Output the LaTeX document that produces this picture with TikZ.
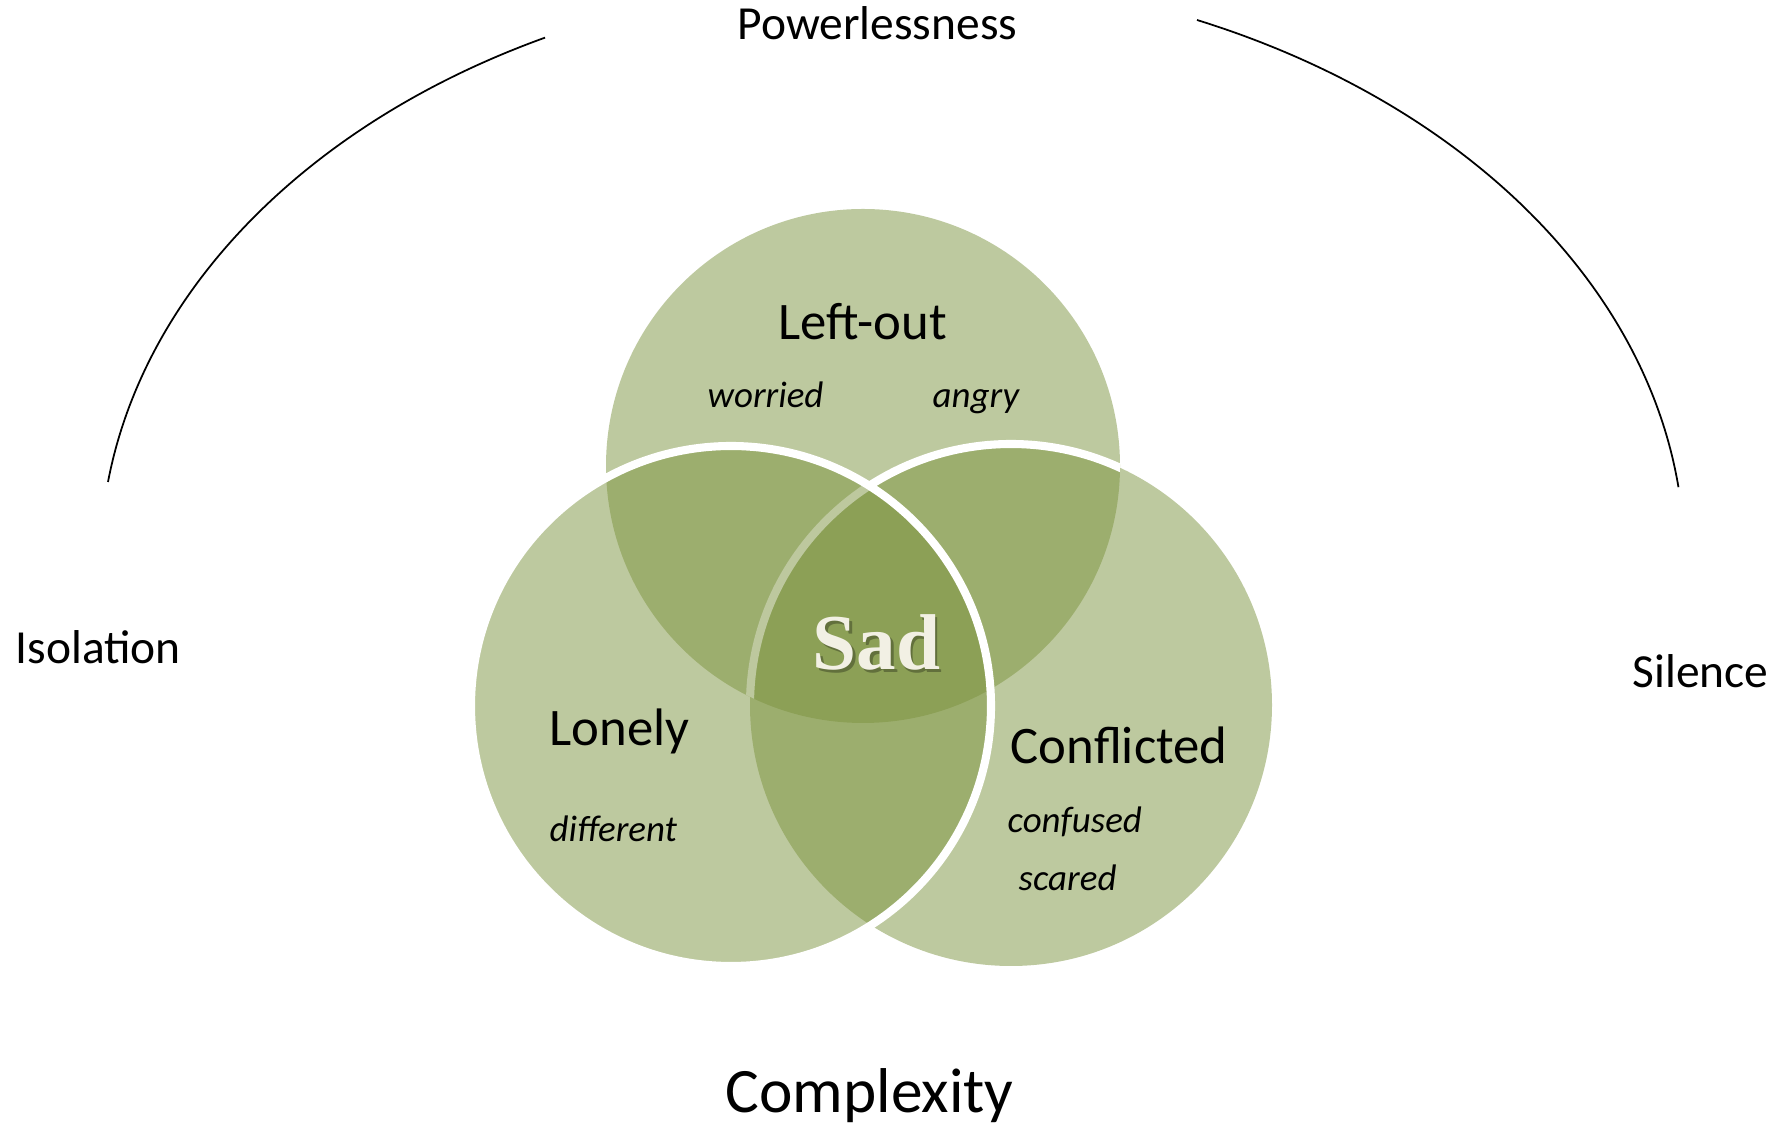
\documentclass[tikz,border=0pt]{standalone}
\usepackage{fontspec}
\setmainfont{Carlito}
\newfontfamily\sadfont{Liberation Serif}

\definecolor{venngreen}{RGB}{124,147,63}
\definecolor{sadcream}{RGB}{242,240,228}

\begin{document}
\begin{tikzpicture}[x=0.01cm, y=0.01cm,
    set/.style={fill=venngreen, fill opacity=0.5},
    rim/.style={draw=white, line width=2.3pt},
    theme/.style={inner sep=0pt, anchor=base west, font=\fontsize{13.5}{16}\selectfont},
    setname/.style={inner sep=0pt, anchor=base west, font=\fontsize{15}{18}\selectfont},
    feeling/.style={inner sep=0pt, anchor=base west, font=\fontsize{10.5}{13}\selectfont\itshape}]
        \useasboundingbox (0,0) rectangle (1787,1133);

        % Venn sets
        \fill[set] (863,667) circle (257);
        \fill[set] (1011,428) circle (261);
        \begin{scope}
            \clip (863,667) circle (257);
            \draw[rim] (1011,428) circle (261);
        \end{scope}
        \filldraw[set, rim] (731,427) circle (260);

        % outer arcs
        \draw[line width=0.5pt] (108,651) arc[start angle=172, end angle=116, x radius=792, y radius=585];
        \draw[line width=0.5pt] (1197,1113) arc[start angle=67, end angle=7, x radius=800, y radius=585];

        % themes
        \node[theme] (power) at (737,1093) {Powerlessness};
        \node[theme] (isolation) at (15,469) {Isolation};
        \node[theme] (silence) at (1632,445) {Silence};
        \node[theme, font=\fontsize{18}{22}\selectfont] (complexity) at (725,20) {Complexity};

        % sets
        \node[setname] (leftout) at (778,793) {Left-out};
        \node[setname] (lonely) at (549,387) {Lonely};
        \node[setname] (conflicted) at (1010,369) {Conflicted};
        \foreach \x/\y/\word in {707/725/worried, 932/725/angry, 549/291/different, 1007/300/confused, 1018/242/scared}
            \node[feeling] (\word) at (\x,\y) {\word};

        % centre
        \node[inner sep=0pt, anchor=base west, font=\sadfont\bfseries\fontsize{22.5}{27}\selectfont, text=black, text opacity=0.3] (sadshadow) at (814.5,460.5) {Sad};
        \node[inner sep=0pt, anchor=base west, font=\sadfont\bfseries\fontsize{22.5}{27}\selectfont, text=sadcream] (sad) at (812,463) {Sad};
    \end{tikzpicture}
\end{document}
